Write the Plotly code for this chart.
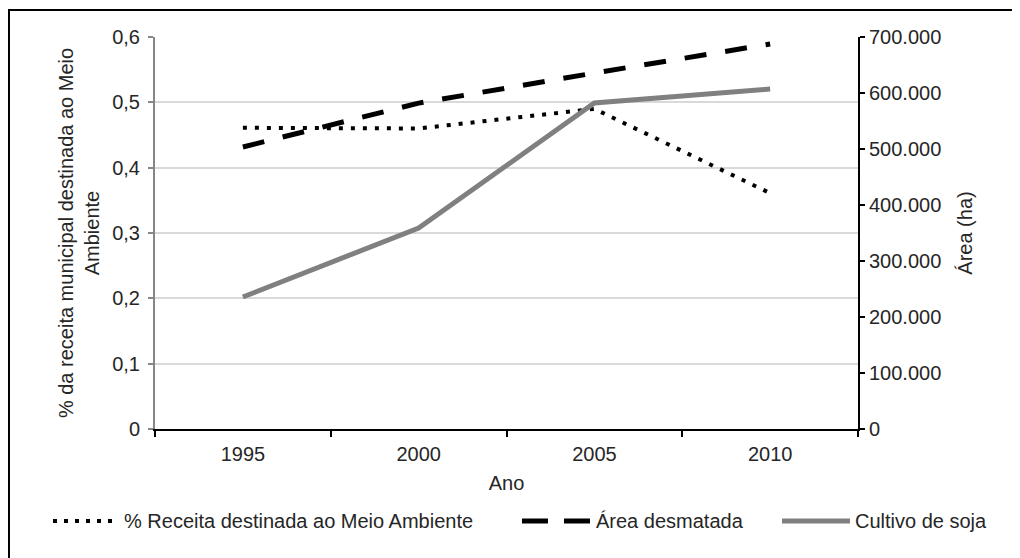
import plotly.graph_objects as go

anos = ["1995", "2000", "2005", "2010"]
receita_pct = [0.461, 0.46, 0.49, 0.361]
area_desmatada = [503600, 582000, 635700, 687500]
cultivo_soja = [235700, 358900, 582100, 607100]

serie_nomes = ["% Receita destinada ao Meio Ambiente", "Área desmatada", "Cultivo de soja"]

left_tickvals = [0, 0.1, 0.2, 0.3, 0.4, 0.5, 0.6]
left_ticktext = ["0", "0,1", "0,2", "0,3", "0,4", "0,5", "0,6"]
right_tickvals = [0, 100000, 200000, 300000, 400000, 500000, 600000, 700000]
right_ticktext = ["0", "100.000", "200.000", "300.000", "400.000", "500.000", "600.000", "700.000"]

FONT = "Liberation Sans, Arial, sans-serif"
FS = 20
TXT = "#262626"

styles = [
    dict(color="black", width=4, dash="4px,8px"),
    dict(color="black", width=5, dash="22px,19px"),
    dict(color="#808080", width=5),
]

fig = go.Figure()
fig.add_trace(go.Scatter(x=anos, y=receita_pct, name=serie_nomes[0],
                         mode="lines", line=styles[0], yaxis="y"))
fig.add_trace(go.Scatter(x=anos, y=area_desmatada, name=serie_nomes[1],
                         mode="lines", line=styles[1], yaxis="y2"))
fig.add_trace(go.Scatter(x=anos, y=cultivo_soja, name=serie_nomes[2],
                         mode="lines", line=styles[2], yaxis="y2"))

# manual legend (sample lines + labels), in paper coordinates
leg_y = -0.2347
samples = [(-0.1451, -0.0526, -0.0441), (0.5220, 0.6188, 0.6273), (0.8919, 0.9886, 0.9957)]
leg_styles = [
    dict(color="black", width=4, dash="4px,7px"),
    dict(color="black", width=5, dash="26px,16px"),
    dict(color="#808080", width=5),
]
shapes = [dict(type="rect", xref="paper", yref="paper",
               x0=-0.2077, x1=1.4, y0=-0.6, y1=1.0689,
               line=dict(color="black", width=2), fillcolor="rgba(0,0,0,0)", layer="below")]
annotations = []
for (sx0, sx1, tx), st, nm in zip(samples, leg_styles, serie_nomes):
    shapes.append(dict(type="line", xref="paper", yref="paper", x0=sx0, x1=sx1,
                       y0=leg_y, y1=leg_y, line=st))
    annotations.append(dict(xref="paper", yref="paper", x=tx, y=leg_y, text=nm,
                            showarrow=False, xanchor="left", yanchor="middle",
                            xshift=-2, font=dict(family=FONT, size=FS, color=TXT)))

fig.update_layout(
    width=1020, height=558,
    margin=dict(l=147, r=170, t=29, b=137),
    paper_bgcolor="white", plot_bgcolor="white",
    font=dict(family=FONT, size=FS, color=TXT),
    separators=",.",
    showlegend=False,
    xaxis=dict(
        type="category", range=[-0.5, 3.5],
        showline=True, linecolor="black", linewidth=2,
        ticks="outside", ticklen=6, tickcolor="black", tickwidth=2,
        tickson="boundaries", showgrid=False, zeroline=False,
        ticklabelstandoff=6,
        title=dict(text="Ano", standoff=12, font=dict(size=FS, color=TXT)),
    ),
    yaxis=dict(
        range=[0, 0.6], tickvals=left_tickvals, ticktext=left_ticktext,
        showline=True, linecolor="#868686", linewidth=2,
        ticks="outside", ticklen=5, tickcolor="#868686", tickwidth=2,
        showgrid=True, gridcolor="#d9d9d9", gridwidth=1.5, zeroline=False,
        ticklabelstandoff=4,
        title=dict(text="% da receita municipal destinada ao Meio<br>Ambiente",
                   standoff=7, font=dict(size=FS, color=TXT)),
    ),
    yaxis2=dict(
        range=[0, 700000], tickvals=right_tickvals, ticktext=right_ticktext,
        overlaying="y", side="right",
        showline=True, linecolor="black", linewidth=2,
        ticks="outside", ticklen=5, tickcolor="black", tickwidth=2,
        showgrid=False, zeroline=False,
        title=dict(text="Área (ha)", standoff=18, font=dict(size=FS, color=TXT)),
    ),
    shapes=shapes,
    annotations=annotations,
)

fig.write_html("out.html")
